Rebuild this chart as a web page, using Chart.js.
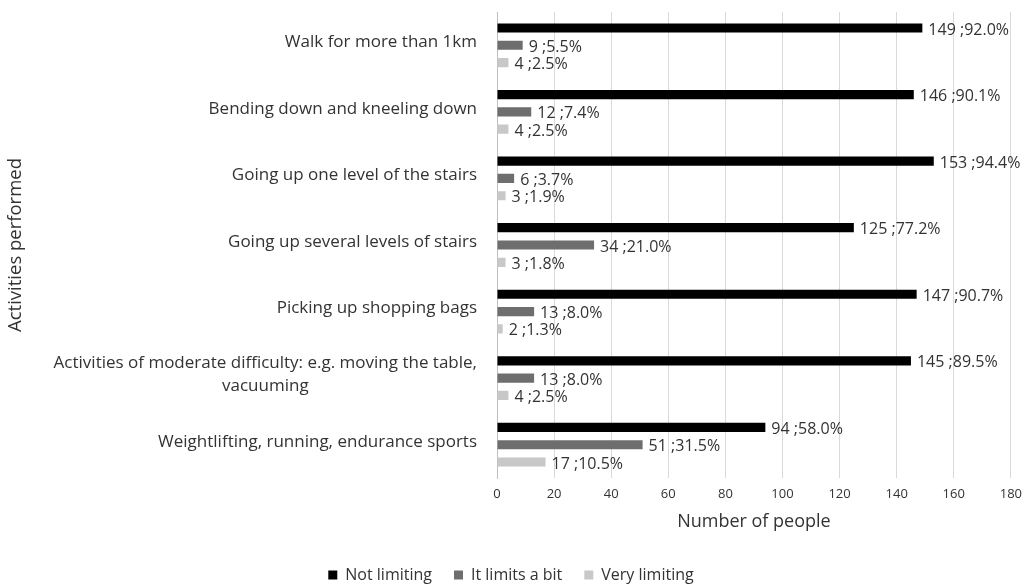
<!DOCTYPE html>
<html>
<head>
<meta charset="utf-8">
<script src="https://cdn.jsdelivr.net/npm/chart.js@4"></script>
<style>
  html, body { margin: 0; padding: 0; background: #fff; }
  #wrap { width: 1030px; height: 585px; }
</style>
</head>
<body>
<div id="wrap"><canvas id="activityChart" width="1030" height="585"></canvas></div>
<script>
const activities = [
  'Walk for more than 1km',
  'Bending down and kneeling down',
  'Going up one level of the stairs',
  'Going up several levels of stairs',
  'Picking up shopping bags',
  ['Activities of moderate difficulty: e.g. moving the table,', 'vacuuming'],
  'Weightlifting, running, endurance sports'
];

const notLimiting = [149, 146, 153, 125, 147, 145, 94];
const notLimitingPct = [92.0, 90.1, 94.4, 77.2, 90.7, 89.5, 58.0];
const limitsABit = [9, 12, 6, 34, 13, 13, 51];
const limitsABitPct = [5.5, 7.4, 3.7, 21.0, 8.0, 8.0, 31.5];
const veryLimiting = [4, 4, 3, 3, 2, 4, 17];
const veryLimitingPct = [2.5, 2.5, 1.9, 1.8, 1.3, 2.5, 10.5];

const xTicks = [0, 20, 40, 60, 80, 100, 120, 140, 160, 180];

const FONT = "'Open Sans', sans-serif";
const TEXT = '#333333';

// writes "value ;pct%" to the right of every bar
const barLabels = {
  id: 'barLabels',
  afterDatasetsDraw(chart) {
    const ctx = chart.ctx;
    ctx.save();
    ctx.font = '16px ' + FONT;
    ctx.fillStyle = TEXT;
    ctx.textAlign = 'left';
    ctx.textBaseline = 'middle';
    chart.data.datasets.forEach((ds, i) => {
      const meta = chart.getDatasetMeta(i);
      meta.data.forEach((bar, j) => {
        const txt = ds.data[j] + ' ;' + ds.pct[j].toFixed(1) + '%';
        ctx.fillText(txt, bar.x + 6, bar.y + 2);
      });
    });
    ctx.restore();
  }
};

// category labels: block right-aligned to the axis, lines centred inside the block
const categoryLabels = {
  id: 'categoryLabels',
  afterDraw(chart) {
    const ctx = chart.ctx;
    const y = chart.scales.y;
    const right = y.right - 20;
    const lineH = 23;
    ctx.save();
    ctx.font = '17px ' + FONT;
    ctx.fillStyle = TEXT;
    ctx.textAlign = 'center';
    ctx.textBaseline = 'middle';
    chart.data.labels.forEach((lab, i) => {
      const lines = Array.isArray(lab) ? lab : [lab];
      const w = Math.max(...lines.map(l => ctx.measureText(l).width));
      const cx = right - w / 2;
      const cy = y.getPixelForTick(i) - 3;
      lines.forEach((l, k) => {
        ctx.fillText(l, cx, cy + (k - (lines.length - 1) / 2) * lineH);
      });
    });
    ctx.restore();
  }
};

new Chart(document.getElementById('activityChart').getContext('2d'), {
  type: 'bar',
  data: {
    labels: activities,
    datasets: [
      { label: 'Not limiting', data: notLimiting, pct: notLimitingPct, backgroundColor: '#000000' },
      { label: 'It limits a bit', data: limitsABit, pct: limitsABitPct, backgroundColor: '#6e6e6e' },
      { label: 'Very limiting', data: veryLimiting, pct: veryLimitingPct, backgroundColor: '#c8c8c8' }
    ]
  },
  options: {
    indexAxis: 'y',
    responsive: false,
    animation: false,
    devicePixelRatio: 1,
    categoryPercentage: 0.78,
    barPercentage: 0.53,
    layout: { padding: { top: 12, right: 8, left: 0, bottom: -8 } },
    plugins: {
      legend: {
        position: 'bottom',
        labels: {
          boxWidth: 9,
          boxHeight: 9,
          padding: 22,
          color: TEXT,
          font: { family: FONT, size: 16 }
        }
      },
      tooltip: { enabled: false }
    },
    scales: {
      x: {
        min: 0,
        max: 180,
        afterBuildTicks: scale => { scale.ticks = xTicks.map(v => ({ value: v })); },
        grid: { color: '#d9d9d9', drawTicks: false },
        border: { display: false },
        ticks: { color: TEXT, padding: 8, font: { family: FONT, size: 13 } },
        title: {
          display: true,
          text: 'Number of people',
          color: TEXT,
          font: { family: FONT, size: 18 },
          padding: { top: 8, bottom: 12 }
        },
        afterFit: scale => { scale.height = 67; }
      },
      y: {
        grid: { display: false, drawTicks: false },
        border: { display: true, color: '#bfbfbf' },
        ticks: { display: false },
        title: {
          display: true,
          text: 'Activities performed',
          color: TEXT,
          font: { family: FONT, size: 18.5 },
          padding: { top: 5, bottom: 4 }
        },
        afterFit: scale => {
          scale.width = 497;
          scale.paddingTop = 0;
          scale.paddingBottom = 0;
        }
      }
    }
  },
  plugins: [barLabels, categoryLabels]
});
</script>
</body>
</html>
